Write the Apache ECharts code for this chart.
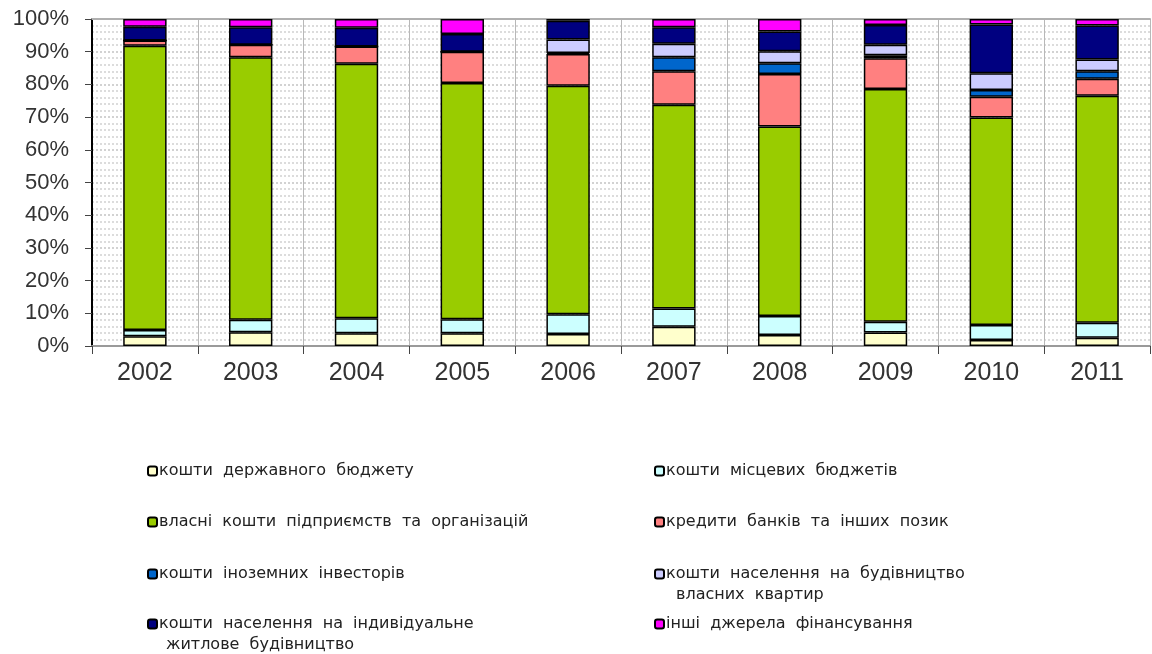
<!DOCTYPE html>
<html>
<head>
<meta charset="utf-8">
<script src="https://cdn.jsdelivr.net/npm/echarts@6/dist/echarts.min.js"></script>
<style>
  html, body { margin: 0; padding: 0; background: #fff; }
  #chart { width: 1152px; height: 654px; }
</style>
</head>
<body>
<div id="chart"></div>
<script>
// Structure of capital investment financing by source, % of total
const years = ['2002', '2003', '2004', '2005', '2006', '2007', '2008', '2009', '2010', '2011'];

const stateBudget   = [3.0, 4.2, 3.9, 3.9, 3.7, 5.9, 3.4, 4.1, 1.8, 2.5];
const localBudgets  = [1.9, 3.8, 4.6, 4.3, 6.0, 5.6, 5.8, 3.3, 4.6, 4.6];
const ownFunds      = [86.9, 80.3, 77.8, 72.2, 69.9, 62.3, 57.9, 71.2, 63.5, 69.4];
const bankCredits   = [1.6, 3.8, 5.3, 9.6, 9.7, 10.2, 16.1, 9.4, 6.3, 5.2];
const foreignInv    = [0.0, 0.0, 0.0, 0.0, 0.3, 4.3, 3.3, 0.9, 2.1, 2.3];
const flatHousing   = [0.0, 0.0, 0.0, 0.0, 4.1, 4.1, 3.6, 3.2, 5.1, 3.6];
const privateHouses = [4.2, 5.4, 5.7, 5.4, 5.8, 5.1, 6.1, 6.1, 14.9, 10.4];
const otherSources  = [2.4, 2.5, 2.7, 4.6, 0.5, 2.5, 3.8, 1.8, 1.7, 2.0];

const yTicks = [0, 10, 20, 30, 40, 50, 60, 70, 80, 90, 100];

const seriesNames = [
  'кошти  державного  бюджету',
  'кошти  місцевих  бюджетів',
  'власні  кошти  підприємств  та  організацій',
  'кредити  банків  та  інших  позик',
  'кошти  іноземних  інвесторів',
  'кошти  населення  на  будівництво',
  'кошти  населення  на  індивідуальне',
  'інші  джерела  фінансування'
];
const seriesData = [stateBudget, localBudgets, ownFunds, bankCredits, foreignInv, flatHousing, privateHouses, otherSources];
const seriesColors = ['#FFFFCC', '#CCFFFF', '#99CC00', '#FF8080', '#0066CC', '#CCCCFF', '#000080', '#FF00FF'];

const FONT = '"Liberation Sans", Arial, sans-serif';
const LEGEND_FONT = '"DejaVu Sans", "Liberation Sans", sans-serif';

const series = seriesNames.map((name, i) => ({
  name: name,
  type: 'bar',
  stack: 'total',
  barWidth: '41%',
  data: seriesData[i],
  itemStyle: { color: seriesColors[i], borderColor: '#000', borderWidth: 1.5 },
  emphasis: { disabled: true }
}));

// legend placement: two columns, four rows
const legendPos = [
  [147, 463], [654, 463],
  [147, 514], [654, 514],
  [147, 566], [654, 566],
  [147, 616], [654, 616]
];
const legends = seriesNames.map((name, i) => ({
  data: [name],
  left: legendPos[i][0],
  top: legendPos[i][1],
  orient: 'horizontal',
  itemWidth: 9,
  itemHeight: 9,
  itemGap: 0,
  selectedMode: false,
  padding: 0,
  textStyle: { fontFamily: LEGEND_FONT, fontSize: 16, color: '#222', padding: [0, 0, 0, -3] }
}));

const chart = echarts.init(document.getElementById('chart'), null, { renderer: 'canvas' });
chart.setOption({
  backgroundColor: '#ffffff',
  animation: false,
  legend: legends,
  grid: { left: 92, right: 2, top: 19, bottom: 308, containLabel: false },
  xAxis: [{
    type: 'category',
    data: years,
    boundaryGap: true,
    axisLine: { show: true, lineStyle: { color: '#9a9a9a', width: 2 } },
    axisTick: { show: true, length: 8, inside: false, lineStyle: { color: '#444', width: 1 } },
    axisLabel: { fontFamily: FONT, fontSize: 25, color: '#333', margin: 15 },
    splitLine: { show: true, lineStyle: { color: '#b8b8b8', width: 1 } }
  }, {
    type: 'category',
    data: years,
    position: 'top',
    axisLine: { show: true, lineStyle: { color: '#b0b0b0', width: 2 } },
    axisTick: { show: false },
    axisLabel: { show: false },
    splitLine: { show: false }
  }],
  yAxis: {
    type: 'value',
    min: yTicks[0],
    max: yTicks[yTicks.length - 1],
    interval: 10,
    axisLine: { show: true, lineStyle: { color: '#000', width: 2 } },
    axisTick: { show: true, length: 7, lineStyle: { color: '#444', width: 1 } },
    axisLabel: { fontFamily: FONT, fontSize: 22, color: '#333', margin: 23, formatter: '{value}%' },
    splitLine: { show: true, lineStyle: { color: '#d2d2d2', width: 2, type: [2, 2] } },
    minorTick: { show: false, splitNumber: 5 },
    minorSplitLine: { show: true, lineStyle: { color: '#dcdcdc', width: 2, type: [2, 2] } }
  },
  graphic: [
    { type: 'text', left: 166, top: 637, style: { text: 'житлове  будівництво', font: '16px ' + LEGEND_FONT, fill: '#222' } },
    { type: 'text', left: 676, top: 587, style: { text: 'власних  квартир', font: '16px ' + LEGEND_FONT, fill: '#222' } }
  ],
  series: series
});
</script>
</body>
</html>
